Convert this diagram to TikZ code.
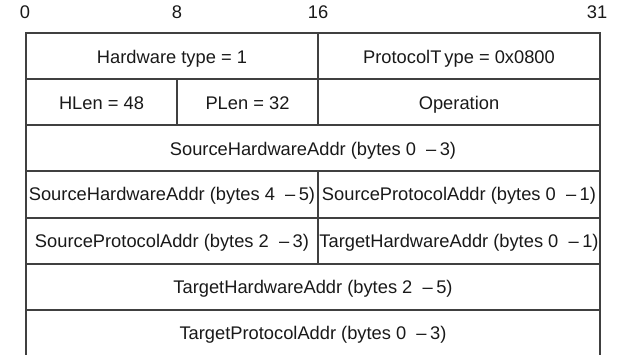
\documentclass[tikz,border=0pt]{standalone}
\usepackage{fontspec}
\setmainfont{Liberation Sans}
\begin{document}
\begin{tikzpicture}[x=1pt,y=-1pt,
  gridline/.style={draw=black!75, line width=1.3pt},
  lbl/.style={font=\fontsize{18.3}{21}\selectfont, inner sep=0pt, anchor=base, text=black!90},
  hdr/.style={font=\fontsize{18.3}{21}\selectfont, inner sep=0pt, anchor=base, text=black!90}]
\useasboundingbox (0,0) rectangle (617,355);
% frame
\draw[gridline] (26,355) -- (26,33) -- (600,33) -- (600,355);
\foreach \yy in {79,125,171,218,264,310}
  \draw[gridline] (26,\yy) -- (600,\yy);
\draw[gridline] (318,33) -- (318,125);
\draw[gridline] (177,79) -- (177,125);
\draw[gridline] (318,171) -- (318,264);
% header
\node[hdr] (b0) at (25,19) {0};
\node[hdr] (b8) at (177,19) {8};
\node[hdr] (b16) at (318,19) {16};
\node[hdr] (b31) at (597,19) {31};
% cells
\node[lbl] (hwt) at (172,63.5) {Hardware type = 1};
\node[lbl] (pt) at (459,63.5) {ProtocolT\kern3pt ype = 0x0800};
\node[lbl] (hlen) at (101.5,109.5) {HLen = 48};
\node[lbl] (plen) at (247.5,109.5) {PLen = 32};
\node[lbl] (op) at (459,109.5) {Operation};
\node[lbl] (sha1) at (313,155.5) {SourceHardwareAddr (bytes 0~~–\kern3.5pt 3)};
\node[lbl] (sha2) at (172,200.5) {SourceHardwareAddr (bytes 4~~–\kern3.5pt 5)};
\node[lbl] (spa1) at (459,200.5) {SourceProtocolAddr (bytes 0~~–\kern3.5pt 1)};
\node[lbl] (spa2) at (172,247.5) {SourceProtocolAddr (bytes 2~~–\kern3.5pt 3)};
\node[lbl] (tha1) at (459,247.5) {TargetHardwareAddr (bytes 0~~–\kern3.5pt 1)};
\node[lbl] (tha2) at (313,293.5) {TargetHardwareAddr (bytes 2~~–\kern3.5pt 5)};
\node[lbl] (tpa) at (313,339.5) {TargetProtocolAddr (bytes 0~~–\kern3.5pt 3)};
\end{tikzpicture}
\end{document}
